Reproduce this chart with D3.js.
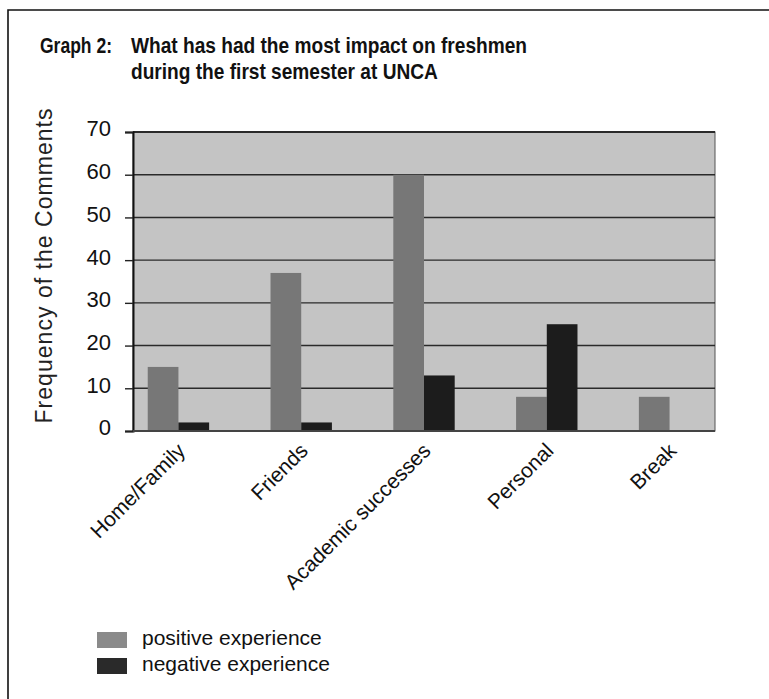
<!DOCTYPE html>
<html>
<head>
<meta charset="utf-8">
<script src="https://cdn.jsdelivr.net/npm/d3@7/dist/d3.min.js"></script>
<style>
  html, body { margin: 0; padding: 0; background: #fff; }
  svg { display: block; font-family: Arial, "Liberation Sans", sans-serif; }
</style>
</head>
<body>
<svg id="chart" width="769" height="699"></svg>
<script>
const categories = ["Home/Family", "Friends", "Academic successes", "Personal", "Break"];
const positive   = [15, 37, 60, 8, 8];
const negative   = [2, 2, 13, 25, 0];
const seriesNames = ["positive experience", "negative experience"];
const yTicks     = [0, 10, 20, 30, 40, 50, 60, 70];

const width  = 769;
const height = 699;
const plot = { left: 133, right: 715, top: 132, bottom: 431 };

const colors = { positive: "#777777", negative: "#1c1c1c", bg: "#c4c4c4", grid: "#2a2a2a" };

const svg = d3.select("#chart");

// outer frame (cut off at right and bottom like the scan)
svg.append("path")
  .attr("d", `M8,${height} L8,10 L${width},10`)
  .attr("fill", "none")
  .attr("stroke", "#111")
  .attr("stroke-width", 1.6);

// title, squeezed a little to look like the narrow print font
const title = svg.append("g").attr("font-weight", "bold").attr("fill", "#111");
title.append("text").attr("x", 40).attr("y", 53)
  .attr("font-size", 22.5)
  .attr("textLength", 72).attr("lengthAdjust", "spacingAndGlyphs")
  .text("Graph 2:");
const line1 = title.append("text").attr("x", 131).attr("y", 53)
  .attr("font-size", 22.5)
  .text("What has had the most impact on freshmen");
const line2 = title.append("text").attr("x", 131).attr("y", 79)
  .attr("font-size", 22.5)
  .text("during the first semester at UNCA");
const squeeze = 396 / line1.node().getComputedTextLength();
line1.attr("textLength", 396).attr("lengthAdjust", "spacingAndGlyphs");
line2.attr("textLength", line2.node().getComputedTextLength() * squeeze)
  .attr("lengthAdjust", "spacingAndGlyphs");

const y = d3.scaleLinear()
  .domain([0, 70])
  .range([plot.bottom, plot.top]);

const x0 = d3.scaleBand()
  .domain(categories)
  .range([plot.left, plot.right])
  .paddingInner(0.5)
  .paddingOuter(0.12);

const x1 = d3.scaleBand()
  .domain(seriesNames)
  .range([0, x0.bandwidth()]);

// plot background
svg.append("rect")
  .attr("x", plot.left)
  .attr("y", plot.top)
  .attr("width", plot.right - plot.left)
  .attr("height", plot.bottom - plot.top)
  .attr("fill", colors.bg)
  .attr("stroke", "#555")
  .attr("stroke-width", 1);

// gridlines
svg.append("g")
  .selectAll("line")
  .data(yTicks.filter(d => d > 0))
  .join("line")
    .attr("x1", plot.left)
    .attr("x2", plot.right)
    .attr("y1", d => y(d))
    .attr("y2", d => y(d))
    .attr("stroke", colors.grid)
    .attr("stroke-width", d => d === 70 ? 2 : 1.4);

// bars
const rows = categories.map((c, i) => ({ cat: c, values: [positive[i], negative[i]] }));

svg.append("g")
  .selectAll("g")
  .data(rows)
  .join("g")
    .attr("transform", d => `translate(${x0(d.cat)},0)`)
  .selectAll("rect")
  .data(d => d.values.map((v, j) => ({ key: seriesNames[j], value: v })))
  .join("rect")
    .attr("x", d => x1(d.key))
    .attr("y", d => y(d.value))
    .attr("width", x1.bandwidth())
    .attr("height", d => y(0) - y(d.value))
    .attr("fill", d => d.key === seriesNames[0] ? colors.positive : colors.negative);

// y axis
const yAxis = d3.axisLeft(y)
  .tickValues(yTicks)
  .tickSize(8)
  .tickPadding(14);

svg.append("g")
  .attr("transform", `translate(${plot.left},0)`)
  .call(yAxis)
  .call(g => g.select(".domain").attr("stroke", "#111").attr("stroke-width", 2))
  .call(g => g.selectAll(".tick line").attr("stroke", "#222").attr("stroke-width", 1.4))
  .call(g => g.selectAll(".tick text")
    .attr("font-size", 22)
    .attr("font-family", "Arial, 'Liberation Sans', sans-serif")
    .attr("fill", "#111")
    .attr("dy", "0.18em"));

// x baseline
svg.append("line")
  .attr("x1", plot.left).attr("x2", plot.right)
  .attr("y1", y(0)).attr("y2", y(0))
  .attr("stroke", "#444")
  .attr("stroke-width", 2);

// category labels
svg.append("g")
  .selectAll("text")
  .data(categories)
  .join("text")
    .attr("transform", d => `translate(${x0(d) + x0.bandwidth() / 2 + 8},452) rotate(-45)`)
    .attr("text-anchor", "end")
    .attr("font-size", 21)
    .attr("fill", "#111")
    .text(d => d);

// y axis title
svg.append("text")
  .attr("transform", "translate(52,266) rotate(-90)")
  .attr("text-anchor", "middle")
  .attr("font-size", 23)
  .attr("fill", "#222")
  .attr("textLength", 315)
  .attr("lengthAdjust", "spacing")
  .text("Frequency of the Comments");

// legend
const legend = svg.append("g")
  .selectAll("g")
  .data(seriesNames)
  .join("g")
    .attr("transform", (d, i) => `translate(97,${632 + i * 26})`);

legend.append("rect")
  .attr("width", 30)
  .attr("height", 16)
  .attr("fill", (d, i) => i === 0 ? "#8a8a8a" : "#2a2a2a");

legend.append("text")
  .attr("x", 45)
  .attr("y", 13)
  .attr("font-size", 21)
  .attr("fill", "#111")
  .text(d => d);
</script>
</body>
</html>
